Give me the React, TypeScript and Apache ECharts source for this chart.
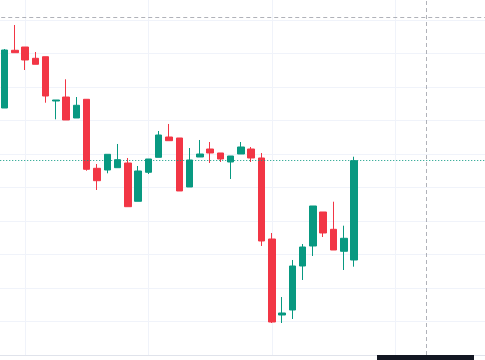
import React, { useEffect, useRef } from "react";
import * as echarts from "echarts";

// [open, close, low, high]
const opens = [73.73, 90.96, 91.94, 88.57, 89.04, 75.82, 77.01, 70.75, 76.33, 55.73, 55.22, 55.91, 57.31, 45.88, 54.54, 59.01, 65.07, 64.78, 50.15, 59.1, 61.49, 60.3, 57.61, 60.0, 61.49, 58.81, 34.63, 11.94, 13.43, 26.57, 32.54, 42.69, 37.52, 30.96, 28.36];
const closes = [91.04, 90.24, 88.06, 86.78, 77.31, 76.12, 70.15, 74.54, 55.43, 52.03, 59.91, 58.3, 44.27, 54.93, 58.51, 65.67, 63.97, 48.96, 58.21, 60.0, 60.3, 58.51, 59.4, 62.09, 58.81, 34.03, 9.85, 12.54, 26.57, 32.24, 44.48, 36.42, 31.34, 34.84, 58.0];
const lows = [73.73, 90.24, 85.07, 86.78, 75.31, 70.36, 70.15, 70.75, 55.01, 49.25, 54.24, 55.91, 44.27, 45.88, 54.03, 59.01, 63.97, 48.96, 50.15, 59.1, 57.31, 57.61, 52.54, 60.0, 57.61, 32.54, 9.55, 9.55, 10.75, 22.39, 29.55, 35.22, 31.34, 25.37, 26.36];
const highs = [91.34, 98.51, 91.94, 90.45, 89.04, 76.12, 82.3, 77.01, 76.33, 57.01, 59.91, 62.99, 58.81, 56.42, 58.51, 66.87, 68.96, 64.78, 61.79, 64.18, 63.58, 60.3, 59.4, 63.58, 62.09, 60.3, 36.42, 17.31, 28.36, 33.13, 44.48, 42.69, 45.76, 38.6, 59.19];

// time slots: one empty slot before the first bar, empty slots after the last bar
const categories = [
  "d0", "d1", "d2", "d3", "d4", "d5", "d6", "d7", "d8", "d9",
  "d10", "d11", "d12", "d13", "d14", "d15", "d16", "d17", "d18", "d19",
  "d20", "d21", "d22", "d23", "d24", "d25", "d26", "d27", "d28", "d29",
  "d30", "d31", "d32", "d33", "d34", "d35", "d36", "d37", "d38", "d39",
  "d40", "d41", "d42", "d43", "d44", "d45", "d46", "d47", "d48",
];

const crosshairPrice = 100.75;
const crosshairCategory = "d42";

const UP = "#089981";
const DOWN = "#F23645";

// the chart div overhangs the window by PAD on every side
const PAD = 20;

export default function App() {
  const ref = useRef<HTMLDivElement>(null);

  useEffect(() => {
    if (!ref.current) return;
    const chart = echarts.init(ref.current, null, { renderer: "svg" });
    const candleData: any[] = ["-"];
    for (let i = 0; i < opens.length; i++) {
      candleData.push([opens[i], closes[i], lows[i], highs[i]]);
    }
    const lastClose = closes[closes.length - 1];

    chart.setOption({
      animation: false,
      backgroundColor: "#ffffff",
      grid: { left: PAD - 5.78, right: PAD - 2.7, top: PAD - 13.5, bottom: PAD + 5 },
      xAxis: {
        type: "category",
        data: categories,
        boundaryGap: false,
        axisLine: { show: true, lineStyle: { color: "#e0e3eb", width: 1 } },
        axisTick: { show: false },
        axisLabel: { show: false },
        splitLine: {
          show: true,
          interval: (idx: number) => idx % 12 === 3,
          lineStyle: { color: "#f0f3fa", width: 1 },
        },
      },
      yAxis: {
        type: "value",
        min: 0,
        max: 110,
        interval: 10,
        axisLine: { show: false },
        axisTick: { show: false },
        axisLabel: { show: false },
        splitLine: { show: true, lineStyle: { color: "#f0f3fa", width: 1 } },
      },
      series: [
        {
          type: "candlestick",
          data: candleData,
          barWidth: 7,
          clip: false,
          itemStyle: {
            color: UP,
            color0: DOWN,
            borderColor: UP,
            borderColor0: DOWN,
            borderWidth: 1,
          },
          markLine: {
            silent: true,
            symbol: ["none", "none"],
            label: { show: false },
            emphasis: { disabled: true },
            data: [
              {
                yAxis: lastClose,
                lineStyle: { color: UP, type: [1, 2], width: 1 },
              },
              {
                yAxis: crosshairPrice,
                lineStyle: { color: "#9598a1", type: [4, 3], width: 1, opacity: 0.75 },
              },
              {
                xAxis: crosshairCategory,
                lineStyle: { color: "#9598a1", type: [4, 3], width: 1, opacity: 0.75 },
              },
            ],
          },
        },
      ],
      graphic: [
        {
          type: "rect",
          left: PAD + 377,
          top: PAD + 355,
          shape: { width: 97, height: 12 },
          style: { fill: "#131722" },
          z: 100,
        },
      ],
    });
    return () => chart.dispose();
  }, []);

  return (
    <div
      ref={ref}
      style={{
        position: "fixed",
        left: -PAD,
        top: -PAD,
        width: 485 + 2 * PAD,
        height: 360 + 2 * PAD,
      }}
    />
  );
}
